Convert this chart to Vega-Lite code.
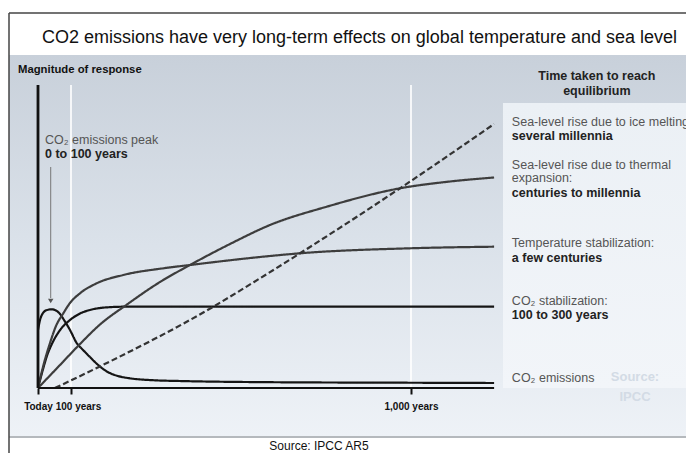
{
  "$schema": "https://vega.github.io/schema/vega-lite/v6.json",
  "width": 677,
  "height": 382,
  "autosize": {"type": "none"},
  "padding": {"left": 9, "top": 55, "right": 0, "bottom": 16},
  "background": "white",
  "config": {
    "view": {"stroke": null},
    "axisY": {"disable": true},
    "text": {"font": "Liberation Sans"}
  },
  "layer": [
    {
      "data": {"values": [{}]},
      "mark": {"type": "rect", "fill": {"gradient": "linear", "x1": 0, "y1": 0, "x2": 0, "y2": 1, "stops": [{"offset": 0, "color": "#c8d0da"}, {"offset": 0.5, "color": "#dbe2ea"}, {"offset": 1, "color": "#eef2f7"}]}},
      "encoding": {"x": {"datum": -88}, "x2": {"datum": 1728}, "y": {"datum": -49}, "y2": {"datum": 333}}
    },
    {
      "data": {"values": [{}]},
      "mark": {"type": "rect", "fill": {"gradient": "linear", "x1": 0, "y1": 0, "x2": 0, "y2": 1, "stops": [{"offset": 0, "color": "#ebf0f5"}, {"offset": 1, "color": "#f2f5f9"}]}},
      "encoding": {"x": {"datum": 1243.5}, "x2": {"datum": 1728}, "y": {"datum": 0}, "y2": {"datum": 285}}
    },
    {
      "data": {"values": [{}]},
      "mark": {"type": "rule", "color": "#b5b9bd", "strokeWidth": 2},
      "encoding": {"x": {"datum": -88}, "x2": {"datum": 1728}, "y": {"datum": -49}}
    },
    {
      "data": {"values": [{}]},
      "mark": {"type": "rule", "color": "#444444", "strokeWidth": 1.5},
      "encoding": {"x": {"datum": -88}, "x2": {"datum": 1728}, "y": {"datum": 375}}
    },
    {
      "data": {"values": [{}]},
      "mark": {"type": "rule", "color": "#444444", "strokeWidth": 1.5},
      "encoding": {"x": {"datum": -88}, "y": {"datum": 375}, "y2": {"datum": -65}}
    },
    {
      "data": {"values": [{"yr": 100}, {"yr": 1000}]},
      "mark": {"type": "rule", "color": "#ffffff", "strokeWidth": 1.8, "opacity": 0.9},
      "encoding": {"x": {"field": "yr", "type": "quantitative"}, "y": {"datum": 0}, "y2": {"datum": 303}}
    },
    {
      "data": {"values": [
        {"s": "emissions", "yr": 0, "v": 58}, {"s": "emissions", "yr": 6.1, "v": 68}, {"s": "emissions", "yr": 15.2, "v": 75}, {"s": "emissions", "yr": 27.3, "v": 78}, {"s": "emissions", "yr": 41.5, "v": 78.7}, {"s": "emissions", "yr": 54.5, "v": 77.5}, {"s": "emissions", "yr": 66.7, "v": 74}, {"s": "emissions", "yr": 78.8, "v": 68}, {"s": "emissions", "yr": 97, "v": 58}, {"s": "emissions", "yr": 115, "v": 45}, {"s": "emissions", "yr": 132, "v": 38}, {"s": "emissions", "yr": 150, "v": 31}, {"s": "emissions", "yr": 172, "v": 23}, {"s": "emissions", "yr": 195, "v": 16.5}, {"s": "emissions", "yr": 224, "v": 12}, {"s": "emissions", "yr": 256, "v": 9.7}, {"s": "emissions", "yr": 322, "v": 7.7}, {"s": "emissions", "yr": 388, "v": 7}, {"s": "emissions", "yr": 627, "v": 5.8}, {"s": "emissions", "yr": 971, "v": 5.3}, {"s": "emissions", "yr": 1220, "v": 5},
        {"s": "co2", "yr": 0, "v": 0}, {"s": "co2", "yr": 12, "v": 15}, {"s": "co2", "yr": 27, "v": 32}, {"s": "co2", "yr": 45, "v": 46}, {"s": "co2", "yr": 67, "v": 58}, {"s": "co2", "yr": 97, "v": 68}, {"s": "co2", "yr": 124, "v": 74.5}, {"s": "co2", "yr": 150, "v": 78}, {"s": "co2", "yr": 190, "v": 80.5}, {"s": "co2", "yr": 243, "v": 81.3}, {"s": "co2", "yr": 1220, "v": 81.3},
        {"s": "temp", "yr": 0, "v": 0}, {"s": "temp", "yr": 16.7, "v": 23}, {"s": "temp", "yr": 36.4, "v": 45}, {"s": "temp", "yr": 54.5, "v": 62}, {"s": "temp", "yr": 76.7, "v": 74.7}, {"s": "temp", "yr": 97, "v": 85}, {"s": "temp", "yr": 123.8, "v": 94.7}, {"s": "temp", "yr": 168, "v": 104.7}, {"s": "temp", "yr": 238.4, "v": 113}, {"s": "temp", "yr": 344.3, "v": 119.7}, {"s": "temp", "yr": 415, "v": 123}, {"s": "temp", "yr": 626.8, "v": 132}, {"s": "temp", "yr": 706.2, "v": 134.7}, {"s": "temp", "yr": 997.3, "v": 139.7}, {"s": "temp", "yr": 1220, "v": 141.3},
        {"s": "thermal", "yr": 0, "v": 0}, {"s": "thermal", "yr": 66.7, "v": 23}, {"s": "thermal", "yr": 123.8, "v": 44}, {"s": "thermal", "yr": 176.8, "v": 63.5}, {"s": "thermal", "yr": 247.4, "v": 83.3}, {"s": "thermal", "yr": 335.6, "v": 106}, {"s": "thermal", "yr": 415, "v": 123}, {"s": "thermal", "yr": 520.9, "v": 144}, {"s": "thermal", "yr": 626.8, "v": 163}, {"s": "thermal", "yr": 776.9, "v": 181.3}, {"s": "thermal", "yr": 970.9, "v": 199.7}, {"s": "thermal", "yr": 1103.2, "v": 206.5}, {"s": "thermal", "yr": 1220, "v": 210.5},
        {"s": "ice", "yr": 51.5, "v": 0}, {"s": "ice", "yr": 168, "v": 20}, {"s": "ice", "yr": 476.7, "v": 81.3}, {"s": "ice", "yr": 600.3, "v": 109.7}, {"s": "ice", "yr": 706.2, "v": 134.7}, {"s": "ice", "yr": 970.9, "v": 199.7}, {"s": "ice", "yr": 1220, "v": 264}
      ]},
      "mark": {"type": "line", "interpolate": "monotone", "strokeWidth": 2.2},
      "encoding": {
        "x": {"field": "yr", "type": "quantitative",
          "scale": {"domain": [-88, 0, 100, 1000, 1728], "range": [0, 29, 62, 402, 677], "nice": false, "zero": false},
          "axis": {"title": null, "zindex": 2, "values": [0, 100, 1000], "labelExpr": "datum.value == 0 ? 'Today' : datum.value == 100 ? '100 years' : '1,000 years'", "domain": false, "grid": false, "ticks": true, "tickSize": 6, "tickWidth": 2, "tickColor": "#111111", "labelFont": "Liberation Sans", "labelFontWeight": "bold", "labelFontSize": 10, "labelColor": "#111111", "labelPadding": 7, "offset": -49, "labelFlush": false, "labelOverlap": false, "labelOffset": {"condition": {"test": "datum.value == 100", "value": 7}, "value": 0}}},
        "y": {"field": "v", "type": "quantitative", "scale": {"domain": [-49, 333], "nice": false, "zero": false}, "axis": null},
        "color": {"field": "s", "type": "nominal", "scale": {"domain": ["emissions", "co2", "temp", "thermal", "ice"], "range": ["#151515", "#151515", "#3d3d3d", "#3d3d3d", "#333333"]}, "legend": null},
        "strokeDash": {"field": "s", "type": "nominal", "scale": {"domain": ["emissions", "co2", "temp", "thermal", "ice"], "range": [[1, 0], [1, 0], [1, 0], [1, 0], [6, 3]]}, "legend": null}
      }
    },
    {
      "data": {"values": [{}]},
      "mark": {"type": "rule", "color": "#111111", "strokeWidth": 2},
      "encoding": {"x": {"datum": 0}, "x2": {"datum": 1220}, "y": {"datum": 0}}
    },
    {
      "data": {"values": [{}]},
      "mark": {"type": "rule", "color": "#111111", "strokeWidth": 2.8},
      "encoding": {"x": {"datum": 0}, "y": {"datum": 0}, "y2": {"datum": 303}}
    },
    {
      "data": {"values": [{}]},
      "mark": {"type": "rule", "color": "#777777", "strokeWidth": 1},
      "encoding": {"x": {"datum": 38.5}, "y": {"datum": 221}, "y2": {"datum": 90}}
    },
    {
      "data": {"values": [{}]},
      "mark": {"type": "point", "shape": "triangle-down", "size": 30, "filled": true, "color": "#555555", "opacity": 1},
      "encoding": {"x": {"datum": 38.5}, "y": {"datum": 87}}
    },
    {
      "data": {"values": [{}]},
      "mark": {"type": "text", "align": "center", "baseline": "middle", "fontSize": 18, "color": "#111111"},
      "encoding": {"x": {"datum": 863.7}, "y": {"datum": 350}, "text": {"value": "CO2 emissions have very long-term effects on global temperature and sea level"}}
    },
    {
      "data": {"values": [{}]},
      "mark": {"type": "text", "align": "left", "baseline": "middle", "fontSize": 11.3, "fontWeight": "bold", "color": "#111111"},
      "encoding": {"x": {"datum": -60.6}, "y": {"datum": 318}, "text": {"value": "Magnitude of response"}}
    },
    {
      "data": {"values": [{}]},
      "mark": {"type": "text", "align": "center", "baseline": "middle", "fontSize": 12.5, "fontWeight": "bold", "color": "#222222"},
      "encoding": {"x": {"datum": 1492}, "y": {"datum": 312}, "text": {"value": "Time taken to reach"}}
    },
    {
      "data": {"values": [{}]},
      "mark": {"type": "text", "align": "center", "baseline": "middle", "fontSize": 12.5, "fontWeight": "bold", "color": "#222222"},
      "encoding": {"x": {"datum": 1492}, "y": {"datum": 297}, "text": {"value": "equilibrium"}}
    },
    {
      "data": {"values": [{}]},
      "mark": {"type": "text", "align": "left", "baseline": "middle", "fontSize": 12.5, "color": "#555555"},
      "encoding": {"x": {"datum": 21.2}, "y": {"datum": 248}, "text": {"value": "CO₂ emissions peak"}}
    },
    {
      "data": {"values": [{}]},
      "mark": {"type": "text", "align": "left", "baseline": "middle", "fontSize": 12.5, "fontWeight": "bold", "color": "#222222"},
      "encoding": {"x": {"datum": 21.2}, "y": {"datum": 234}, "text": {"value": "0 to 100 years"}}
    },
    {
      "data": {"values": [{}]},
      "mark": {"type": "text", "align": "left", "baseline": "middle", "fontSize": 12.5, "color": "#555555"},
      "encoding": {"x": {"datum": 1267}, "y": {"datum": 266.3}, "text": {"value": "Sea-level rise due to ice melting:"}}
    },
    {
      "data": {"values": [{}]},
      "mark": {"type": "text", "align": "left", "baseline": "middle", "fontSize": 12.5, "fontWeight": "bold", "color": "#222222"},
      "encoding": {"x": {"datum": 1267}, "y": {"datum": 252}, "text": {"value": "several millennia"}}
    },
    {
      "data": {"values": [{}]},
      "mark": {"type": "text", "align": "left", "baseline": "middle", "fontSize": 12.5, "color": "#555555"},
      "encoding": {"x": {"datum": 1267}, "y": {"datum": 223}, "text": {"value": "Sea-level rise due to thermal"}}
    },
    {
      "data": {"values": [{}]},
      "mark": {"type": "text", "align": "left", "baseline": "middle", "fontSize": 12.5, "color": "#555555"},
      "encoding": {"x": {"datum": 1267}, "y": {"datum": 210}, "text": {"value": "expansion:"}}
    },
    {
      "data": {"values": [{}]},
      "mark": {"type": "text", "align": "left", "baseline": "middle", "fontSize": 12.5, "fontWeight": "bold", "color": "#222222"},
      "encoding": {"x": {"datum": 1267}, "y": {"datum": 195.3}, "text": {"value": "centuries to millennia"}}
    },
    {
      "data": {"values": [{}]},
      "mark": {"type": "text", "align": "left", "baseline": "middle", "fontSize": 12.5, "color": "#555555"},
      "encoding": {"x": {"datum": 1267}, "y": {"datum": 145.3}, "text": {"value": "Temperature stabilization:"}}
    },
    {
      "data": {"values": [{}]},
      "mark": {"type": "text", "align": "left", "baseline": "middle", "fontSize": 12.5, "fontWeight": "bold", "color": "#222222"},
      "encoding": {"x": {"datum": 1267}, "y": {"datum": 130}, "text": {"value": "a few centuries"}}
    },
    {
      "data": {"values": [{}]},
      "mark": {"type": "text", "align": "left", "baseline": "middle", "fontSize": 12.5, "color": "#555555"},
      "encoding": {"x": {"datum": 1267}, "y": {"datum": 87}, "text": {"value": "CO₂ stabilization:"}}
    },
    {
      "data": {"values": [{}]},
      "mark": {"type": "text", "align": "left", "baseline": "middle", "fontSize": 12.5, "fontWeight": "bold", "color": "#222222"},
      "encoding": {"x": {"datum": 1267}, "y": {"datum": 73}, "text": {"value": "100 to 300 years"}}
    },
    {
      "data": {"values": [{}]},
      "mark": {"type": "text", "align": "left", "baseline": "middle", "fontSize": 12.5, "color": "#555555"},
      "encoding": {"x": {"datum": 1267}, "y": {"datum": 10.3}, "text": {"value": "CO₂ emissions"}}
    },
    {
      "data": {"values": [{}]},
      "mark": {"type": "text", "align": "center", "baseline": "middle", "fontSize": 13, "fontWeight": "bold", "color": "#d3dbe5"},
      "encoding": {"x": {"datum": 1593}, "y": {"datum": 11}, "text": {"value": "Source:"}}
    },
    {
      "data": {"values": [{}]},
      "mark": {"type": "text", "align": "center", "baseline": "middle", "fontSize": 13, "fontWeight": "bold", "color": "#d3dbe5"},
      "encoding": {"x": {"datum": 1593}, "y": {"datum": -9}, "text": {"value": "IPCC"}}
    },
    {
      "data": {"values": [{}]},
      "mark": {"type": "text", "align": "center", "baseline": "middle", "fontSize": 12, "color": "#111111"},
      "encoding": {"x": {"datum": 756.5}, "y": {"datum": -58}, "text": {"value": "Source: IPCC AR5"}}
    }
  ]
}
